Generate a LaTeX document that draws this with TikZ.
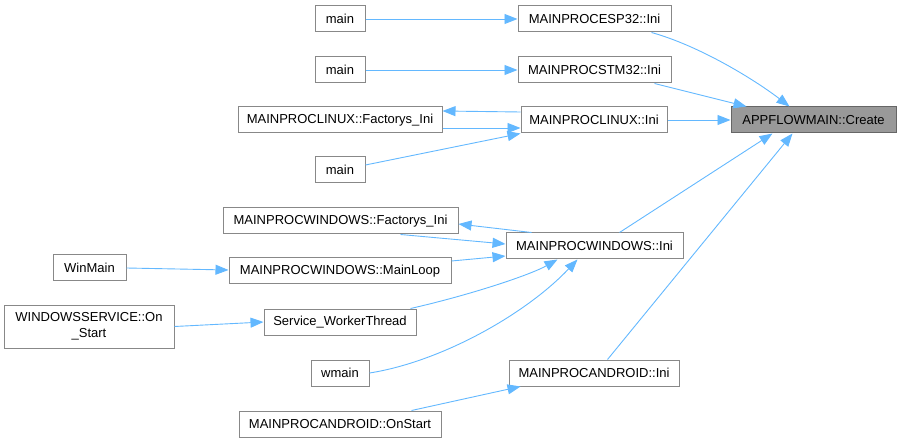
\documentclass[tikz,border=0pt]{standalone}
\usepackage{fontspec}
\setmainfont{Liberation Sans}
\usetikzlibrary{arrows.meta,calc}
\definecolor{edgec}{HTML}{63B8FF}
\definecolor{boxc}{HTML}{888888}
\definecolor{rootfill}{HTML}{999999}
\definecolor{rootborder}{HTML}{666666}
\begin{document}
\begin{tikzpicture}[x=1pt,y=-1pt,
  box/.style={draw=boxc,line width=1pt,fill=white,minimum height=26pt,inner sep=0pt,
    font=\fontsize{13}{16}\selectfont},
  rootbox/.style={box,draw=rootborder,fill=rootfill},
  edge/.style={draw=edgec,line width=0.9pt,-{Triangle[length=13pt,width=10pt]}}]
\useasboundingbox (0,0) rectangle (901,443);
% nodes
\node[rootbox,minimum width=165pt] (create) at (813.5,120) {APPFLOWMAIN::Create};
\node[box,minimum width=153pt] (esp) at (594.5,19) {MAINPROCESP32::Ini};
\node[box,minimum width=153pt] (stm) at (594.5,70) {MAINPROCSTM32::Ini};
\node[box,minimum width=146pt] (linux) at (594,120) {MAINPROCLINUX::Ini};
\node[box,minimum width=204pt] (linf) at (340,120) {MAINPROCLINUX::Factorys\_Ini};
\node[box,minimum width=50pt] (main1) at (340,19) {main};
\node[box,minimum width=50pt] (main2) at (340,70) {main};
\node[box,minimum width=50pt] (main3) at (340,170) {main};
\node[box,minimum width=235pt] (winf) at (340.5,221) {MAINPROCWINDOWS::Factorys\_Ini};
\node[box,minimum width=177pt] (win) at (594.5,246) {MAINPROCWINDOWS::Ini};
\node[box,minimum width=73pt] (winmain) at (89.5,268) {WinMain};
\node[box,minimum width=222pt] (mainloop) at (340,271) {MAINPROCWINDOWS::MainLoop};
\node[box,minimum width=170pt,minimum height=43pt,align=center] (onstart) at (89,326.5) {WINDOWSSERVICE::On\\\_Start};
\node[box,minimum width=152pt] (swt) at (340,322) {Service\_WorkerThread};
\node[box,minimum width=58pt] (wmain) at (340,373) {wmain};
\node[box,minimum width=170pt] (android) at (594,373) {MAINPROCANDROID::Ini};
\node[box,minimum width=202pt] (aonstart) at (340,424) {MAINPROCANDROID::OnStart};
% edges
\draw[edge] (main1.east) -- (esp.west);
\draw[edge] (main2.east) -- (stm.west);
\draw[edge] ($(esp.south west)+(134,0)$) .. controls (700,46) and (755,80) .. ($(create.north west)+(59,0)$);
\draw[edge] ($(stm.south west)+(137,0)$) -- ($(create.north west)+(16,0)$);
\draw[edge] (linux.east) -- (create.west);
\draw[edge] ($(linux.west)+(0,-8)$) -- ($(linf.east)+(0,-9)$);
\draw[edge] ($(linf.east)+(0,8)$) -- ($(linux.west)+(0,8)$);
\draw[edge] ($(main3.east)+(0,-5)$) -- (linux.south west);
\draw[edge] ($(win.north west)+(26,0)$) -- ($(winf.east)+(0,3)$);
\draw[edge] ($(winf.south east)+(-58,0)$) -- ($(win.west)+(0,-2)$);
\draw[edge] ($(mainloop.east)+(0,-10)$) -- ($(win.west)+(0,10)$);
\draw[edge] (winmain.east) -- ($(mainloop.west)+(0,-1)$);
\draw[edge] ($(swt.north east)+(-6,0)$) .. controls (470,295) and (530,275) .. ($(win.south west)+(52,0)$);
\draw[edge] (onstart.east) -- (swt.west);
\draw[edge] (wmain.east) .. controls (440,362) and (525,315) .. ($(win.south west)+(72,0)$);
\draw[edge] ($(win.north west)+(114,0)$) -- ($(create.south west)+(42,0)$);
\draw[edge] ($(android.north west)+(99,0)$) -- ($(create.south west)+(62,0)$);
\draw[edge] ($(aonstart.north east)+(-30,0)$) -- ($(android.south west)+(12,0)$);
\end{tikzpicture}
\end{document}
